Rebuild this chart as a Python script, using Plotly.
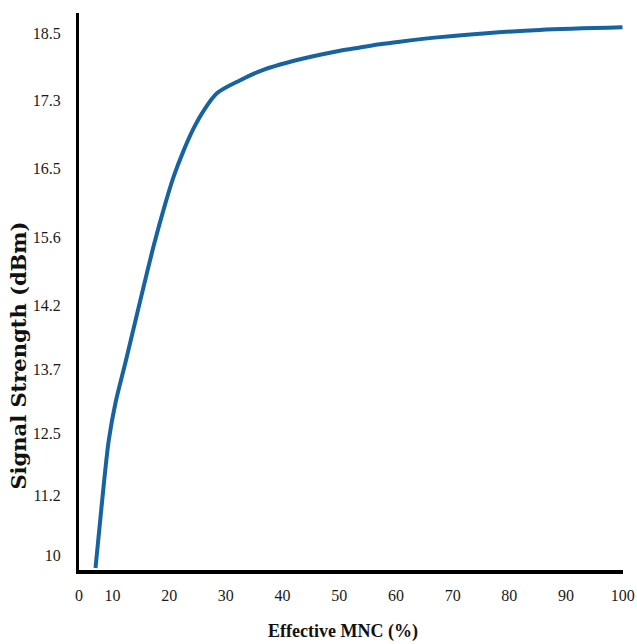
import plotly.graph_objects as go

# Tick labels as printed on the chart
y_tick_labels = ["10", "11.2", "12.5", "13.7", "14.2", "15.6", "16.5", "17.3", "18.5"]
y_tick_levels = [0, 0.92, 1.87, 2.84, 3.83, 4.87, 5.93, 6.97, 7.99]  # level of each label on the y scale
x_tick_labels = ["0", "10", "20", "30", "40", "50", "60", "70", "80", "90", "100"]
x_tick_values = [4.1, 10, 20, 30, 40, 50, 60, 70, 80, 90, 100]

# Curve (x = Effective MNC %, y = level on the signal-strength scale)
mnc = [7.01, 8.19, 9.35, 10.53, 12.29, 14.35, 17.27, 19.03, 20.79, 22.55, 24.31, 26.07,
       28.43, 32.54, 36.06, 39.58, 43.1, 46.62, 50.14, 53.66, 57.18, 60.7, 67.75, 76.0,
       85.35, 99.96]
signal_level = [-0.20, 0.84, 1.76, 2.33, 2.95, 3.70, 4.74, 5.30, 5.80, 6.20, 6.54, 6.81,
                7.08, 7.28, 7.42, 7.52, 7.60, 7.67, 7.73, 7.78, 7.83, 7.87, 7.94, 8.00,
                8.05, 8.09]

fig = go.Figure()
fig.add_trace(go.Scatter(
    x=mnc, y=signal_level, mode="lines",
    line=dict(color="#17639f", width=4, shape="spline", smoothing=0.9),
    hoverinfo="skip", showlegend=False,
))

serif = "Liberation Serif, Times New Roman, serif"
tick_font = dict(family=serif, size=16, color="#1a1a1a")

fig.update_layout(
    width=637, height=644,
    margin=dict(l=78.5, r=14, t=13, b=74, autoexpand=False),
    paper_bgcolor="white", plot_bgcolor="white",
    xaxis=dict(
        range=[4.1, 100.05], showgrid=False, zeroline=False, automargin=False,
        showline=True, linecolor="black", linewidth=4,
        tickmode="array", tickvals=x_tick_values, ticktext=x_tick_labels,
        ticks="outside", ticklen=8, tickcolor="rgba(0,0,0,0)",
        tickfont=tick_font,
    ),
    yaxis=dict(
        range=[-0.23, 8.31], showgrid=False, zeroline=False, automargin=False,
        showline=True, linecolor="black", linewidth=3,
        tickmode="array", tickvals=y_tick_levels, ticktext=y_tick_labels,
        ticks="outside", ticklen=12, tickcolor="rgba(0,0,0,0)",
        tickfont=tick_font,
    ),
    annotations=[
        dict(text="<b>Effective MNC (%)</b>", xref="paper", yref="paper",
             x=0.485, y=0, xanchor="center", yanchor="middle", yshift=-61,
             showarrow=False,
             font=dict(family=serif, size=18, color="#111")),
        dict(text="<b>Signal Strength (dBm)</b>", xref="paper", yref="paper",
             x=0, y=0.385, xanchor="center", yanchor="middle", xshift=-60,
             textangle=-90, showarrow=False,
             font=dict(family="DejaVu Serif", size=21, color="#111")),
    ],
)

# Remove the page's default body margin so the figure fills the window exactly
fig.write_html(
    "out.html",
    config={"displayModeBar": False},
    post_script="document.body.style.margin='0';document.body.style.overflow='hidden';",
)
